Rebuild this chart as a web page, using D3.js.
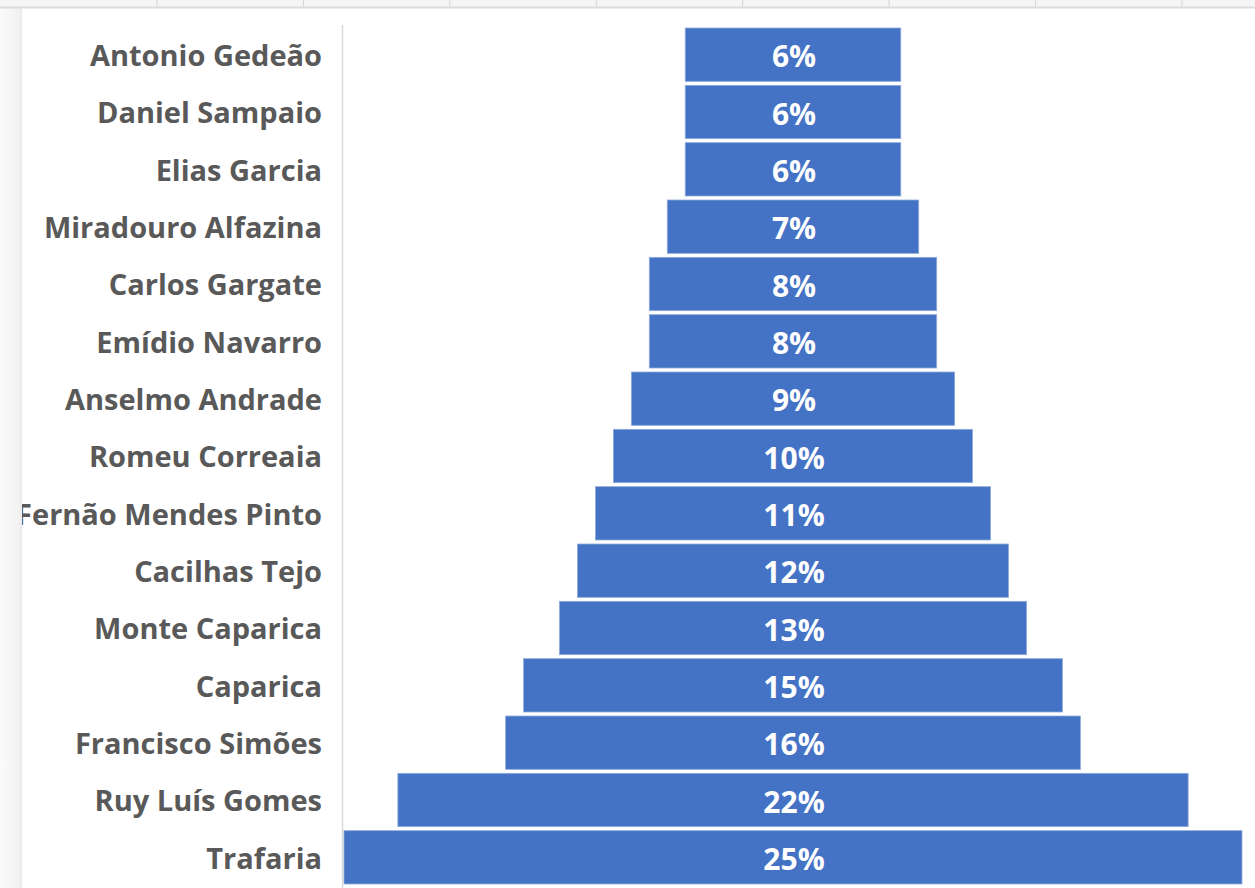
<!DOCTYPE html>
<html>
<head>
<meta charset="utf-8">
<script src="https://cdn.jsdelivr.net/npm/d3@7"></script>
<style>
    html, body { margin: 0; padding: 0; background: #fff; }
    svg { display: block; }
</style>
</head>
<body>
<svg width="1255" height="888"></svg>
<script>
var categories = ["Antonio Gedeão", "Daniel Sampaio", "Elias Garcia", "Miradouro Alfazina",
    "Carlos Gargate", "Emídio Navarro", "Anselmo Andrade", "Romeu Correaia",
    "Fernão Mendes Pinto", "Cacilhas Tejo", "Monte Caparica", "Caparica",
    "Francisco Simões", "Ruy Luís Gomes", "Trafaria"];
var values = [6, 6, 6, 7, 8, 8, 9, 10, 11, 12, 13, 15, 16, 22, 25];
var valueLabels = ["6%", "6%", "6%", "7%", "8%", "8%", "9%", "10%", "11%", "12%", "13%", "15%", "16%", "22%", "25%"];

var svg = d3.select("svg"),
    width = +svg.attr("width"),
    height = +svg.attr("height");

var data = categories.map(function (c, i) {
    return { name: c, value: values[i], label: valueLabels[i] };
});

// background sheet grid peeking at the top
var grid = d3.scaleLinear().domain([0, 8]).range([10.6, 1182]);
svg.append("rect").attr("x", 0).attr("y", 0).attr("width", width).attr("height", height).attr("fill", "#f5f5f5");
svg.append("g").selectAll("line")
    .data(d3.range(1, 9))
    .enter().append("line")
    .attr("x1", function (d) { return grid(d); })
    .attr("x2", function (d) { return grid(d); })
    .attr("y1", 0).attr("y2", 7)
    .attr("stroke", "#d4d4d4");

// left shadow
var grad = svg.append("defs").append("linearGradient").attr("id", "shade");
grad.append("stop").attr("offset", "0%").attr("stop-color", "#fbfbfb");
grad.append("stop").attr("offset", "85%").attr("stop-color", "#f2f2f2");
grad.append("stop").attr("offset", "100%").attr("stop-color", "#ebebeb");
svg.append("rect").attr("x", 0).attr("y", 7).attr("width", 22).attr("height", height).attr("fill", "url(#shade)");

svg.append("clipPath").attr("id", "panel")
    .append("rect").attr("x", 22).attr("y", 8).attr("width", width - 22).attr("height", height - 8);

var g = svg.append("g").attr("clip-path", "url(#panel)");
g.append("rect").attr("x", 22).attr("y", 8).attr("width", width - 22).attr("height", height - 8).attr("fill", "#fff");

svg.append("line")
    .attr("x1", 0).attr("x2", width).attr("y1", 7.5).attr("y2", 7.5)
    .attr("stroke", "#dcdcdc").attr("stroke-width", 2);

var cx = 793;
var x = d3.scaleLinear().domain([0, 25]).range([0, 898]);
var y = d3.scaleBand().domain(categories).range([26, 886]).paddingInner(0.07).paddingOuter(0.035);

g.append("line")
    .attr("x1", 342.5).attr("x2", 342.5)
    .attr("y1", 25).attr("y2", height)
    .attr("stroke", "#d9d9d9").attr("stroke-width", 1.5);

g.append("g")
    .attr("class", "labels")
    .selectAll("text")
    .data(data)
    .enter().append("text")
    .attr("x", 322)
    .attr("y", function (d) { return y(d.name) + y.bandwidth() / 2 + 1; })
    .attr("dy", "0.36em")
    .attr("text-anchor", "end")
    .attr("font-family", "'Open Sans', sans-serif")
    .attr("font-weight", "bold")
    .attr("font-size", "29px")
    .attr("fill", "#595959")
    .text(function (d) { return d.name; });

g.selectAll(".bar")
    .data(data)
    .enter().append("rect")
    .attr("class", "bar")
    .attr("x", function (d) { return Math.max(343, cx - x(d.value) / 2); })
    .attr("y", function (d) { return y(d.name); })
    .attr("width", function (d) { return x(d.value); })
    .attr("height", y.bandwidth())
    .attr("fill", "#4472c4")
    .attr("stroke", "#8eaadb")
    .attr("stroke-width", 0.8);

g.append("g")
    .selectAll("text")
    .data(data)
    .enter().append("text")
    .attr("x", cx + 1)
    .attr("y", function (d) { return y(d.name) + y.bandwidth() / 2 + 2; })
    .attr("dy", "0.36em")
    .attr("text-anchor", "middle")
    .attr("font-family", "'Open Sans', sans-serif")
    .attr("font-weight", "bold")
    .attr("font-size", "30px")
    .attr("fill", "#fff")
    .text(function (d) { return d.label; });
</script>
</body>
</html>
